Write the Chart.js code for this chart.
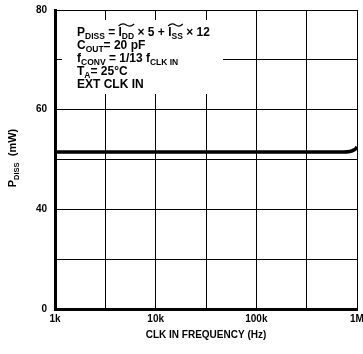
<!DOCTYPE html>
<html><head><meta charset="utf-8">
<script src="https://cdn.jsdelivr.net/npm/chart.js@4/dist/chart.umd.min.js"></script>
<style>html,body{margin:0;padding:0;background:#fff}#wrap{width:363px;height:354px}</style>
</head><body><div id="wrap"><canvas id="c"></canvas></div>
<script>
// Data
const freqHz = [1000, 2000, 5000, 10000, 20000, 50000, 100000, 200000, 400000, 700000, 850000, 950000, 1000000];
const pDissMw = [51.5, 51.5, 51.5, 51.5, 51.5, 51.5, 51.5, 51.5, 51.5, 51.5, 51.6, 52.0, 52.5];
const xTickValues = [1000, 3162, 10000, 31623, 100000, 316228, 1000000];
const xTickLabels = {1000: '1k', 10000: '10k', 100000: '100k', 1000000: '1M'};
// Broken axis: bottom gridline is labelled 0
const yTickLabels = {80: '80', 60: '60', 40: '40', 20: '0'};
const annotationLines = [
  [['P',0],['DISS',1],[' = ',0],['I',0,'t1'],['DD',1,'t1e'],[' \u00d7 5 + ',0],['I',0,'t2'],['SS',1,'t2e'],[' \u00d7 12',0]],
  [['C',0],['OUT',1],['= 20 pF',0]],
  [['f',0],['CONV',1],[' = 1/13 f',0],['CLK IN',1]],
  [['T',0],['A',1],['= 25\u00b0C',0]],
  [['EXT CLK IN',0]]
];

const FONT = '"Liberation Sans", Arial, sans-serif';

function drawRich(ctx, x, y, parts, size, subSize) {
  let cx = x, tStart = null;
  for (const p of parts) {
    const sub = p[1] === 1;
    ctx.font = 'bold ' + (sub ? subSize : size) + 'px ' + FONT;
    const w = ctx.measureText(p[0]).width;
    if (p[2] === 't1' || p[2] === 't2') tStart = cx;
    ctx.fillText(p[0], cx, sub ? y + 3 : y);
    cx += w;
    if ((p[2] === 't1e' || p[2] === 't2e') && tStart !== null) {
      const x0 = tStart, x1 = cx, ty = y - 11;
      const mid = (x0 + x1) / 2;
      ctx.beginPath();
      ctx.lineWidth = 1.2;
      ctx.moveTo(x0, ty + 1);
      ctx.quadraticCurveTo((x0 + mid) / 2, ty - 2.5, mid, ty);
      ctx.quadraticCurveTo((mid + x1) / 2, ty + 2.5, x1, ty - 1);
      ctx.stroke();
      tStart = null;
    }
  }
}

const textPlugin = {
  id: 'texts',
  beforeDatasetsDraw(chart) {
    const ctx = chart.ctx;
    ctx.save();
    ctx.fillStyle = '#fff';
    ctx.fillRect(62, 20, 161, 74);
    ctx.restore();
  },
  afterDraw(chart) {
    const ctx = chart.ctx;
    ctx.save();
    ctx.fillStyle = '#000';
    ctx.strokeStyle = '#000';
    ctx.textBaseline = 'alphabetic';
    let y = 36;
    for (const line of annotationLines) {
      drawRich(ctx, 77, y, line, 12, 8.5);
      y += 13;
    }
    // Y axis title, rotated
    ctx.translate(16, 158);
    ctx.rotate(-Math.PI / 2);
    const parts = [['P',0],['DISS',1],['  (mW)',0]];
    let total = 0;
    for (const p of parts) { ctx.font = 'bold ' + (p[1] ? 7.5 : 11) + 'px ' + FONT; total += ctx.measureText(p[0]).width; }
    let cx = -total / 2;
    for (const p of parts) {
      ctx.font = 'bold ' + (p[1] ? 7.5 : 11) + 'px ' + FONT;
      ctx.fillText(p[0], cx, p[1] ? 3 : 0);
      cx += ctx.measureText(p[0]).width;
    }
    ctx.restore();
  }
};

new Chart(document.getElementById('c'), {
  type: 'line',
  data: {
    datasets: [{
      data: freqHz.map((f, i) => ({x: f, y: pDissMw[i]})),
      borderColor: '#000',
      borderWidth: 3.5,
      pointRadius: 0,
      tension: 0.4,
      fill: false
    }]
  },
  options: {
    responsive: true,
    maintainAspectRatio: false,
    animation: false,
    devicePixelRatio: 1,
    layout: {padding: {top: 10, right: 6, left: 0, bottom: 0}},
    plugins: {legend: {display: false}, tooltip: {enabled: false}},
    scales: {
      x: {
        type: 'logarithmic',
        min: 1000, max: 1000000,
        afterBuildTicks(scale) { scale.ticks = xTickValues.map(v => ({value: v})); },
        afterFit(scale) { scale.height = 45; scale.paddingLeft = 0; scale.paddingRight = 0; },
        ticks: {
          autoSkip: false, maxRotation: 0, padding: 4,
          color: '#000', font: {family: FONT, size: 10, weight: 'bold'},
          callback: (v) => xTickLabels[v] || ''
        },
        grid: {color: '#000', lineWidth: 1, drawTicks: false},
        border: {color: '#000', width: 3},
        title: {display: true, text: 'CLK IN FREQUENCY (Hz)', color: '#000',
                font: {family: FONT, size: 10, weight: 'bold'}, padding: {top: 5, bottom: 13}}
      },
      y: {
        min: 20, max: 80,
        afterBuildTicks(scale) { scale.ticks = [20,30,40,50,60,70,80].map(v => ({value: v})); },
        afterFit(scale) { scale.width = 55; scale.paddingTop = 0; scale.paddingBottom = 0; },
        ticks: {
          padding: 8, color: '#000', font: {family: FONT, size: 10, weight: 'bold'},
          callback: (v) => yTickLabels[v] || ''
        },
        grid: {color: '#000', lineWidth: 1, drawTicks: false},
        border: {color: '#000', width: 3}
      }
    }
  },
  plugins: [textPlugin]
});
</script></body></html>
